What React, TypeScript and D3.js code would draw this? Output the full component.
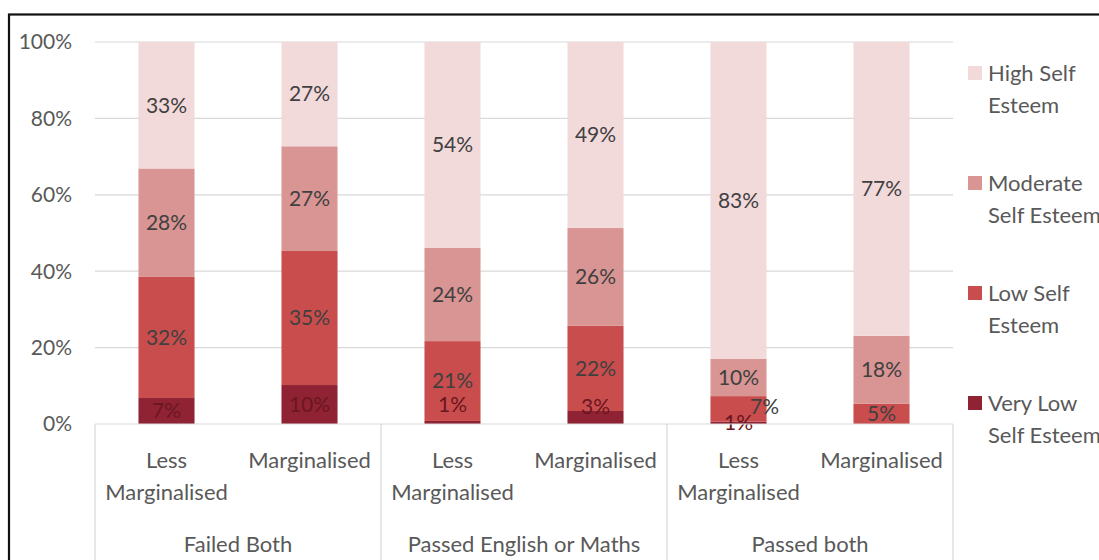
import React, { useEffect, useRef } from 'react';
import * as d3 from 'd3';

// sub-categories (bars), read left to right
const barLabels: string[][] = [
  ['Less', 'Marginalised'],
  ['Marginalised'],
  ['Less', 'Marginalised'],
  ['Marginalised'],
  ['Less', 'Marginalised'],
  ['Marginalised'],
];
const groupLabels = ['Failed Both', 'Passed English or Maths', 'Passed both'];

// stacked series, bottom to top (percent)
const veryLow = [6.8, 10.2, 0.8, 3.4, 0.6, 0];
const low = [31.7, 35.1, 20.9, 22.3, 6.7, 5.3];
const moderate = [28.4, 27.4, 24.4, 25.6, 9.8, 17.8];
const high = [33.1, 27.3, 53.9, 48.7, 82.9, 76.9];

const seriesNames = ['Very Low Self Esteem', 'Low Self Esteem', 'Moderate Self Esteem', 'High Self Esteem'];
const legendLines = [['High Self', 'Esteem'], ['Moderate', 'Self Esteem'], ['Low Self', 'Esteem'], ['Very Low', 'Self Esteem']];
const colors = ['#8f2233', '#c84d4c', '#d99594', '#f2dadb'];
const yTicks = [0, 20, 40, 60, 80, 100];

// hand-moved data labels in the original (bar index, series index) -> nudge
const labelNudge: Record<string, [number, number]> = {
  '2-0': [0, -18],
  '3-0': [0, -11],
  '4-1': [26, -2],
};

const FONT = 'Lato, "Open Sans", sans-serif';

export default function App() {
  const svgRef = useRef<SVGSVGElement>(null);

  useEffect(() => {
    if (!svgRef.current) return;
    const root = d3.select(svgRef.current);
    root.selectAll('*').remove();

    const width = 1099;
    const height = 560;
    const plot = { left: 95, right: 953, top: 42, bottom: 424 };

    root.attr('width', width).attr('height', height);

    root.append('rect')
      .attr('x', 0).attr('y', 0).attr('width', width).attr('height', height)
      .attr('fill', '#fff');

    // outer chart border
    root.append('rect')
      .attr('x', 9).attr('y', 14.5).attr('width', width + 20).attr('height', height + 20)
      .attr('fill', 'none')
      .attr('stroke', '#111')
      .attr('stroke-width', 2.2);

    const data = barLabels.map((_, i) => ({
      idx: i,
      'Very Low Self Esteem': veryLow[i],
      'Low Self Esteem': low[i],
      'Moderate Self Esteem': moderate[i],
      'High Self Esteem': high[i],
    }));

    const x = d3.scaleBand<number>()
      .domain(data.map(d => d.idx))
      .range([plot.left, plot.right])
      .paddingInner(0.608)
      .paddingOuter(0.304);

    const y = d3.scaleLinear().domain([0, 100]).range([plot.bottom, plot.top]);

    // gridlines
    root.append('g')
      .selectAll('line')
      .data(yTicks.filter(t => t > 0))
      .enter()
      .append('line')
      .attr('x1', plot.left).attr('x2', plot.right)
      .attr('y1', d => y(d)).attr('y2', d => y(d))
      .attr('stroke', '#d9d9d9')
      .attr('stroke-width', 1.2);

    // y tick labels
    root.append('g')
      .selectAll('text')
      .data(yTicks)
      .enter()
      .append('text')
      .attr('x', 72)
      .attr('y', d => y(d))
      .attr('dy', '0.35em')
      .attr('text-anchor', 'end')
      .attr('font-family', FONT)
      .attr('font-size', '21px')
      .attr('fill', '#595959')
      .text(d => `${d}%`);

    const stack = d3.stack<any>().keys(seriesNames);
    const layers = stack(data);

    const layerG = root.append('g')
      .selectAll('g')
      .data(layers)
      .enter()
      .append('g')
      .attr('fill', (_, i) => colors[i]);

    layerG.selectAll('rect')
      .data(d => d)
      .enter()
      .append('rect')
      .attr('x', d => x(d.data.idx)!)
      .attr('width', x.bandwidth())
      .attr('y', d => y(d[1]))
      .attr('height', d => y(d[0]) - y(d[1]));

    // data labels
    layers.forEach((layer, si) => {
      root.append('g')
        .selectAll('text')
        .data(layer.filter(d => d[1] - d[0] > 0))
        .enter()
        .append('text')
        .attr('x', d => x(d.data.idx)! + x.bandwidth() / 2 + (labelNudge[`${d.data.idx}-${si}`]?.[0] ?? 0))
        .attr('y', d => (y(d[0]) + y(d[1])) / 2 + (labelNudge[`${d.data.idx}-${si}`]?.[1] ?? 0))
        .attr('dy', '0.35em')
        .attr('text-anchor', 'middle')
        .attr('font-family', FONT)
        .attr('font-size', '21px')
        .attr('fill', si === 0 ? '#6a1622' : '#404040')
        .text(d => `${Math.round(d[1] - d[0])}%`);
    });

    // category axis
    const axisColor = '#d9d9d9';
    root.append('line')
      .attr('x1', plot.left).attr('x2', plot.right)
      .attr('y1', plot.bottom).attr('y2', plot.bottom)
      .attr('stroke', axisColor).attr('stroke-width', 1.2);

    const groupEdges = [0, 2, 4, 6].map(i => plot.left + i * x.step());
    root.append('g')
      .selectAll('line')
      .data(groupEdges)
      .enter()
      .append('line')
      .attr('x1', d => d).attr('x2', d => d)
      .attr('y1', plot.bottom).attr('y2', height)
      .attr('stroke', axisColor).attr('stroke-width', 1.2);

    const barText = root.append('g')
      .selectAll('text')
      .data(barLabels.map((lines, i) => ({ lines, i })))
      .enter()
      .append('text')
      .attr('text-anchor', 'middle')
      .attr('font-family', FONT)
      .attr('font-size', '22px')
      .attr('fill', '#595959');

    barText.each(function (d) {
      const t = d3.select(this);
      d.lines.forEach((line, li) => {
        t.append('tspan')
          .attr('x', x(d.i)! + x.bandwidth() / 2)
          .attr('y', 468 + li * 31.5)
          .text(line);
      });
    });

    root.append('g')
      .selectAll('text')
      .data(groupLabels)
      .enter()
      .append('text')
      .attr('x', (_, i) => (groupEdges[i] + groupEdges[i + 1]) / 2)
      .attr('y', 552)
      .attr('text-anchor', 'middle')
      .attr('font-family', FONT)
      .attr('font-size', '22px')
      .attr('fill', '#595959')
      .text(d => d);

    // legend (top entry = High)
    const legendColors = [...colors].reverse();
    const legend = root.append('g')
      .selectAll('g')
      .data(legendLines)
      .enter()
      .append('g')
      .attr('transform', (_, i) => `translate(968,${66 + i * 110})`);

    legend.append('rect')
      .attr('width', 14).attr('height', 14)
      .attr('fill', (_, i) => legendColors[i]);

    legend.each(function (lines) {
      const t = d3.select(this).append('text')
        .attr('font-family', FONT)
        .attr('font-size', '22px')
        .attr('fill', '#595959');
      lines.forEach((line, li) => {
        t.append('tspan')
          .attr('x', 20)
          .attr('y', 15 + li * 32)
          .text(line);
      });
    });
  }, []);

  return (
    <div style={{ position: 'fixed', left: 0, top: 0 }}>
      <svg ref={svgRef} style={{ display: 'block' }}></svg>
    </div>
  );
}
